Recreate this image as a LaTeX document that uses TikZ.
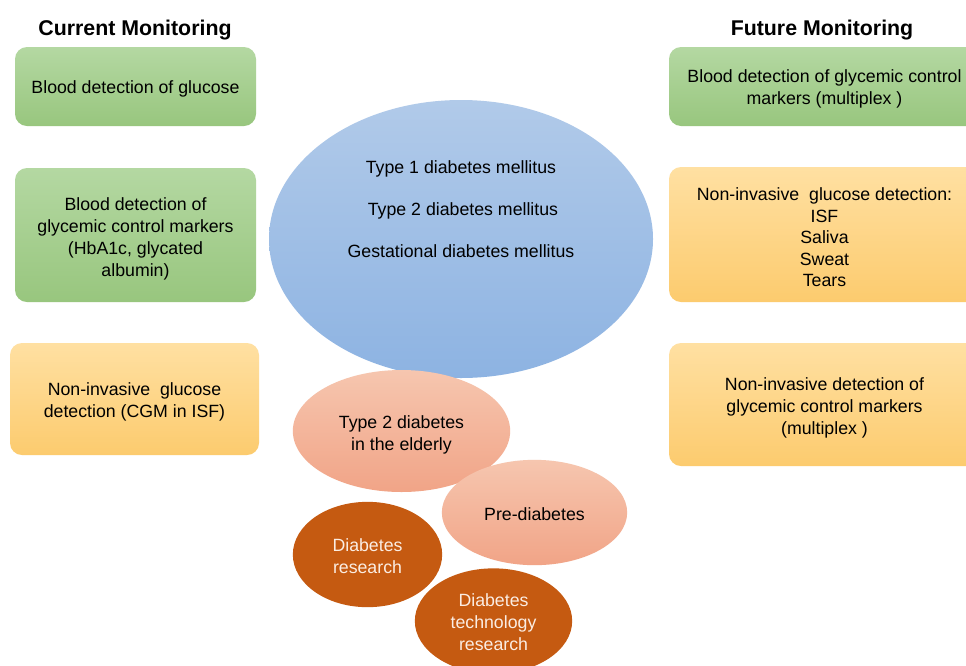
\documentclass[tikz,border=0pt]{standalone}
\usepackage{fontspec}
\setmainfont{Liberation Sans}
\usetikzlibrary{shapes.geometric}
\definecolor{grtop}{HTML}{B4D8A2}
\definecolor{grbot}{HTML}{98C67E}
\definecolor{ortop}{HTML}{FFE0A2}
\definecolor{orbot}{HTML}{FCCB6E}
\definecolor{bltop}{HTML}{B1CAE9}
\definecolor{blbot}{HTML}{8DB3E2}
\definecolor{satop}{HTML}{F6C6AF}
\definecolor{sabot}{HTML}{F1A487}
\definecolor{dkor}{HTML}{C55A11}
\definecolor{cream}{HTML}{FBEDE3}
\begin{document}
\begin{tikzpicture}[x=0.75pt,y=-0.75pt,
  txt/.style={font=\fontsize{13.3}{16.5}\selectfont, align=center, text=black},
  head/.style={font=\fontsize{16}{19}\selectfont\bfseries, text=black, anchor=base},
  box/.style={rectangle, rounded corners=9pt, inner sep=0pt},
  greenbox/.style={box, top color=grtop, bottom color=grbot},
  orangebox/.style={box, top color=ortop, bottom color=orbot},
  ell/.style={ellipse, inner sep=0pt},
  blueell/.style={ell, top color=bltop, bottom color=blbot},
  salmonell/.style={ell, top color=satop, bottom color=sabot},
  darkell/.style={ell, fill=dkor},
  wtxt/.style={txt, text=cream}
]
\useasboundingbox (0,0) rectangle (966,665);
\clip (0,0) rectangle (966,665);
\fill[white] (0,0) rectangle (966,665);

% headings
\node[head] (hcur) at (135,35) {Current Monitoring};
\node[head] (hfut) at (822,35) {Future Monitoring};

% left column
\node[greenbox, minimum width=180.75pt, minimum height=59.25pt] (l1) at (135.5,86.5) {};
\node[txt] (l1t) at ([yshift=-1.5pt]l1.center) {Blood detection of glucose};
\node[greenbox, minimum width=180.75pt, minimum height=100.5pt] (l2) at (135.5,235) {};
\node[txt] (l2t) at ([yshift=-3pt]l2.center) {Blood detection of\\glycemic control markers\\(HbA1c, glycated\\albumin)};
\node[orangebox, minimum width=186.75pt, minimum height=84pt] (l3) at (134.5,399) {};
\node[txt] (l3t) at ([yshift=-2.25pt]l3.center) {Non-invasive\ \ glucose\\detection (CGM in ISF)};

% right column
\node[greenbox, minimum width=233.25pt, minimum height=59.25pt] (r1) at (824.5,86.5) {};
\node[txt] (r1t) at ([yshift=-1.5pt]r1.center) {Blood detection of glycemic control\\markers (multiplex )};
\node[orangebox, minimum width=233.25pt, minimum height=101.25pt] (r2) at (824.5,234.5) {};
\node[txt, font=\fontsize{13.3}{16.1}\selectfont] (r2t) at ([yshift=-2.25pt]r2.center) {Non-invasive\ \ glucose detection:\\ISF\\Saliva\\Sweat\\Tears};
\node[orangebox, minimum width=233.25pt, minimum height=92.25pt] (r3) at (824.5,404.5) {};
\node[txt] (r3t) at ([yshift=-2.25pt]r3.center) {Non-invasive detection of\\glycemic control markers\\(multiplex )};

% central ellipse
\node[blueell, minimum width=288pt, minimum height=208.5pt] (big) at (461,239) {};
\node[txt, anchor=base] (t1) at (461,173.5) {Type 1 diabetes mellitus};
\node[txt, anchor=base] (t2) at (463,215.5) {Type 2 diabetes mellitus};
\node[txt, anchor=base] (t3) at (461,257.5) {Gestational diabetes mellitus};

% lower ellipses
\node[salmonell, minimum width=163pt, minimum height=91.5pt] (eld) at (401.5,431) {};
\node[txt] (eldt) at ([yshift=-2.6pt]eld.center) {Type 2 diabetes\\in the elderly};
\node[salmonell, minimum width=139pt, minimum height=79pt] (pre) at (534.5,512.5) {};
\node[txt] (pret) at ([yshift=-1.5pt]pre.center) {Pre-diabetes};
\node[darkell, minimum width=112pt, minimum height=79pt] (res) at (367.5,554.5) {};
\node[wtxt] (rest) at ([yshift=-1.5pt]res.center) {Diabetes\\research};
\node[darkell, minimum width=118pt, minimum height=79pt] (tech) at (493.5,621) {};
\node[wtxt] (techt) at ([yshift=-0.75pt]tech.center) {Diabetes\\technology\\research};
\end{tikzpicture}
\end{document}
